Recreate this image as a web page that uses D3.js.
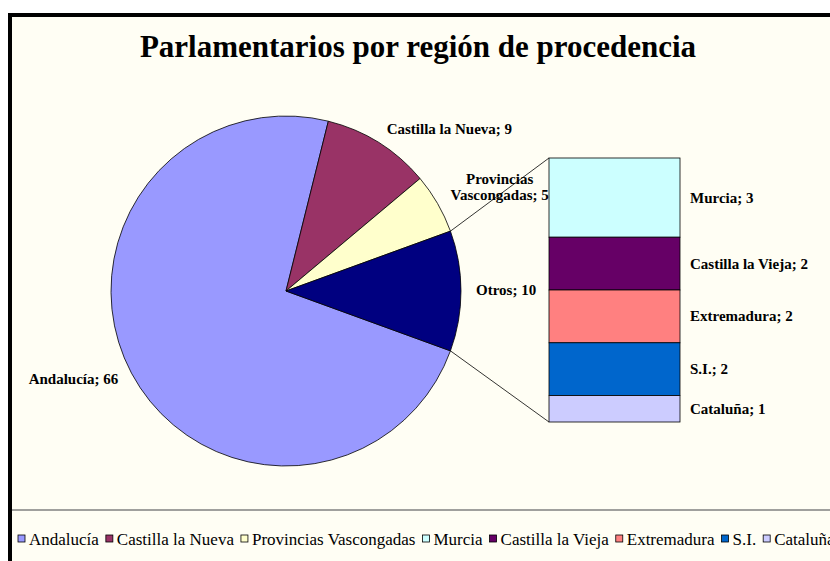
<!DOCTYPE html>
<html>
<head>
<meta charset="utf-8">
<script src="https://cdn.jsdelivr.net/npm/d3@7"></script>
<style>
  html, body { margin: 0; padding: 0; background: #fff; }
  svg { display: block; }
</style>
</head>
<body>
<div id="chart"></div>
<script>
const FONT = "'Liberation Serif', 'Times New Roman', serif";
const SIZE = [830, 561];

// pie slices
const categories = ["Andalucía", "Castilla la Nueva", "Provincias Vascongadas", "Otros"];
const values = [66, 9, 5, 10];
const pieColors = ["#9999FF", "#993366", "#FFFFCC", "#000080"];

// "Otros" broken out into the bar
const otrosCategories = ["Murcia", "Castilla la Vieja", "Extremadura", "S.I.", "Cataluña"];
const otrosValues = [3, 2, 2, 2, 1];
const barColors = ["#CCFFFF", "#660066", "#FF8080", "#0066CC", "#CCCCFF"];

const TITLE = "Parlamentarios por región de procedencia";

function drawChart() {
	const svg = d3.select("#chart").append("svg")
		.attr("width", SIZE[0])
		.attr("height", SIZE[1]);

	// chart area with the heavy border (only top/left visible)
	svg.append("rect")
		.attr("x", 10).attr("y", 15)
		.attr("width", SIZE[0] + 20).attr("height", SIZE[1] + 20)
		.attr("fill", "#FFFEF4")
		.attr("stroke", "#000")
		.attr("stroke-width", 4);

	svg.append("text")
		.attr("x", 418).attr("y", 57)
		.attr("text-anchor", "middle")
		.style("font-family", FONT)
		.style("font-weight", "bold")
		.style("font-size", "31px")
		.text(TITLE);

	// ---- pie ----
	const cx = 286, cy = 291, r = 175;
	const total = d3.sum(values);
	const otrosAngle = values[values.length - 1] / total * 2 * Math.PI;
	const start = Math.PI / 2 + otrosAngle / 2;  // Otros centred pointing right
	const pie = d3.pie().sort(null).startAngle(start).endAngle(start + 2 * Math.PI);
	const arcs = pie(values);
	const arc = d3.arc().innerRadius(0).outerRadius(r);

	const g = svg.append("g").attr("transform", `translate(${cx},${cy})`);
	g.selectAll("path")
		.data(arcs)
		.enter().append("path")
		.attr("d", arc)
		.attr("fill", (d, i) => pieColors[i])
		.attr("stroke", "#000")
		.attr("stroke-width", 0.8);

	// pie labels
	const labelR = r + 15;
	arcs.forEach((a, i) => {
		const mid = (a.startAngle + a.endAngle) / 2;
		const lx = labelR * Math.sin(mid), ly = -labelR * Math.cos(mid);
		const right = Math.sin(mid) > 0;
		const label = categories[i] + "; " + values[i];
		let lines = [label];
		if (label.length > 22) {
			const sp = label.indexOf(" ");
			lines = [label.slice(0, sp), label.slice(sp + 1)];
		}
		const t = g.append("text")
			.style("font-family", FONT)
			.style("font-weight", "bold")
			.style("font-size", "15px")
			.attr("text-anchor", "middle");
		const lh = 16.5;
		lines.forEach((ln, k) => {
			t.append("tspan")
				.attr("y", ly + 4 - (lines.length - 1 - k) * lh)
				.text(ln);
		});
		// block width: widest line, lines centred within the block
		let w = 0;
		t.selectAll("tspan").each(function () { w = Math.max(w, this.getComputedTextLength()); });
		const bx = right ? lx + w / 2 : lx - w / 2;
		t.selectAll("tspan").attr("x", bx);
	});

	// ---- bar of "Otros" ----
	const barX = 549, barW = 131;
	const yBar = d3.scaleLinear().domain([0, d3.sum(otrosValues)]).range([158, 422]);
	let cum = 0;
	const segs = otrosValues.map((v, i) => {
		const s = {name: otrosCategories[i], value: v, y0: cum, y1: cum + v, color: barColors[i]};
		cum += v;
		return s;
	});

	// connector lines from the Otros slice edges to the bar corners
	const otros = arcs[arcs.length - 1];
	const edge = (ang) => [cx + r * Math.sin(ang), cy - r * Math.cos(ang)];
	const pTop = edge(otros.startAngle), pBot = edge(otros.endAngle);
	svg.append("line")
		.attr("x1", pTop[0]).attr("y1", pTop[1])
		.attr("x2", barX).attr("y2", yBar(0))
		.attr("stroke", "#000").attr("stroke-width", 0.8);
	svg.append("line")
		.attr("x1", pBot[0]).attr("y1", pBot[1])
		.attr("x2", barX).attr("y2", yBar(cum))
		.attr("stroke", "#000").attr("stroke-width", 0.8);

	svg.selectAll("rect.seg")
		.data(segs)
		.enter().append("rect")
		.attr("class", "seg")
		.attr("x", barX)
		.attr("y", (d) => yBar(d.y0))
		.attr("width", barW)
		.attr("height", (d) => yBar(d.y1) - yBar(d.y0))
		.attr("fill", (d) => d.color)
		.attr("stroke", "#000")
		.attr("stroke-width", 0.8);

	svg.selectAll("text.seglabel")
		.data(segs)
		.enter().append("text")
		.attr("class", "seglabel")
		.attr("x", barX + barW + 10)
		.attr("y", (d) => (yBar(d.y0) + yBar(d.y1)) / 2 + 5)
		.style("font-family", FONT)
		.style("font-weight", "bold")
		.style("font-size", "15px")
		.text((d) => d.name + "; " + d.value);

	// ---- legend ----
	svg.append("line")
		.attr("x1", 12).attr("x2", SIZE[0])
		.attr("y1", 510).attr("y2", 510)
		.attr("stroke", "#808080")
		.attr("stroke-width", 1.5);

	const legendNames = categories.slice(0, 3).concat(otrosCategories);
	const legendColors = pieColors.slice(0, 3).concat(barColors);
	const legend = svg.append("g");
	let x = 18;
	legendNames.forEach((name, i) => {
		legend.append("rect")
			.attr("x", x).attr("y", 535)
			.attr("width", 7).attr("height", 7)
			.attr("fill", legendColors[i])
			.attr("stroke", "#000")
			.attr("stroke-width", 0.8);
		const t = legend.append("text")
			.attr("x", x + 11).attr("y", 545)
			.style("font-family", FONT)
			.style("font-size", "17px")
			.text(name);
		x += 11 + t.node().getComputedTextLength() + 7;
	});
}

document.addEventListener("DOMContentLoaded", () => {
	drawChart();
});
</script>
</body>
</html>
